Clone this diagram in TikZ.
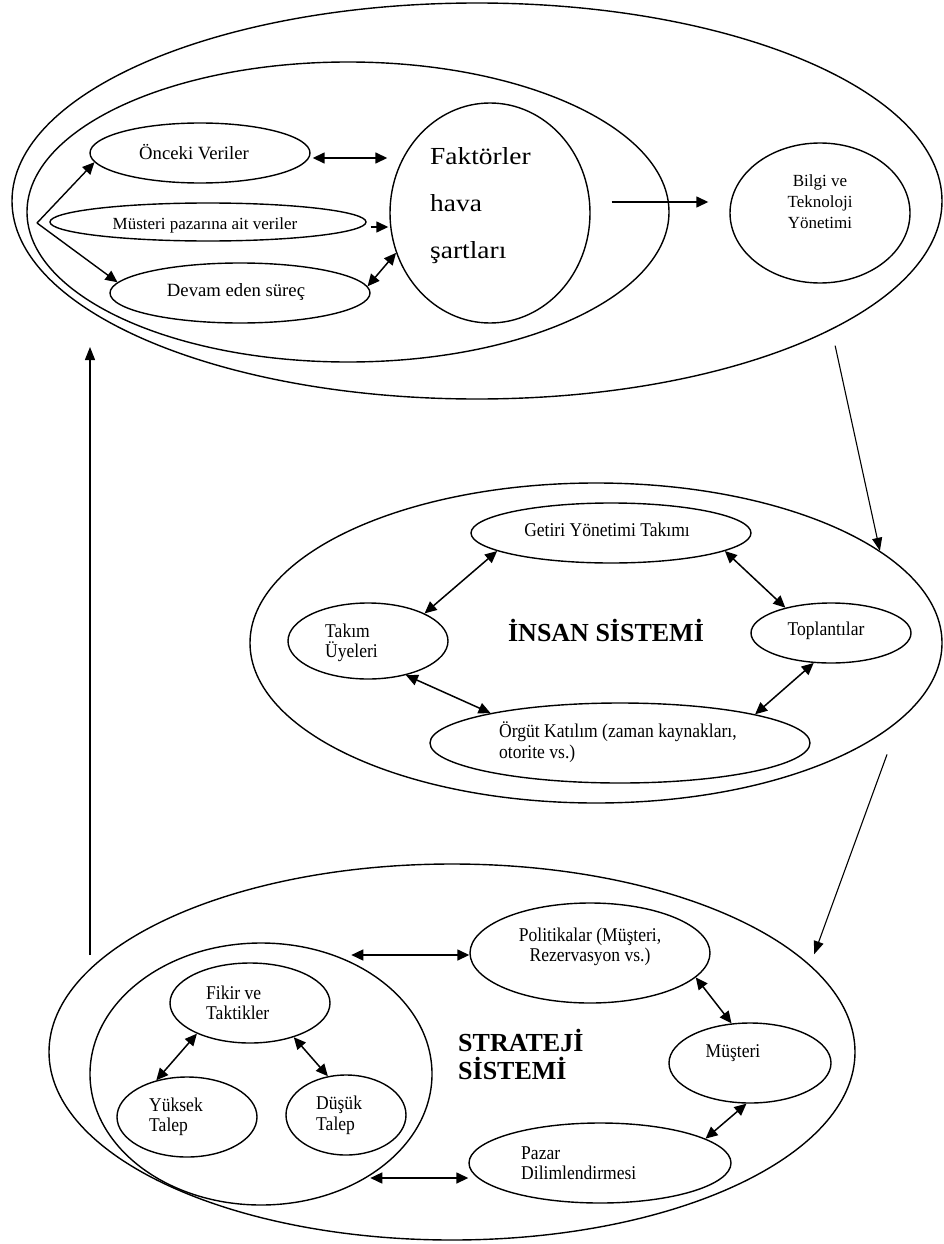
\documentclass[tikz,border=0pt]{standalone}
\usepackage{fontspec}
\setmainfont{Liberation Serif}
\newfontfamily\labelfont[FakeStretch=0.9]{Liberation Serif}
\newfontfamily\widefont[FakeStretch=1.12]{Liberation Serif}
\usetikzlibrary{shapes.geometric,arrows.meta,calc}

\begin{document}
\begin{tikzpicture}[x=1pt,y=-1pt,
  oval/.style={draw,ellipse,line width=1.4pt,inner sep=0pt},
  lbl/.style={font=\labelfont\fontsize{19.5}{20.5}\selectfont,inner sep=0pt},
  big/.style={font=\rmfamily\fontsize{18.7}{21}\selectfont,inner sep=0pt},
  head/.style={font=\bfseries\fontsize{26}{28}\selectfont,inner sep=0pt,align=left},
  dbl/.style={{Triangle[length=12pt,width=11pt]}-{Triangle[length=12pt,width=11pt]},line width=1.5pt},
  sgl/.style={-{Triangle[length=12pt,width=11pt]},line width=1.4pt},
  flow/.style={-{Triangle[length=13pt,width=10pt]},line width=1.1pt}]

\fill[white] (0,0) rectangle (944,1244);
\useasboundingbox (0,0) rectangle (944,1244);

% ---------- knowledge and technology block ----------
\node[oval,minimum width=930pt,minimum height=396pt] (topouter) at (477,201) {};
\node[oval,minimum width=642pt,minimum height=300pt] (topinner) at (348,212) {};
\node[oval,minimum width=220pt,minimum height=60pt] (onceki) at (200,153) {};
\node[oval,minimum width=316pt,minimum height=38pt] (musteri) at (208,222) {};
\node[oval,minimum width=260pt,minimum height=60pt] (devam) at (240,293) {};
\node[oval,minimum width=200pt,minimum height=220pt] (faktor) at (490,213) {};
\node[oval,minimum width=180pt,minimum height=140pt] (bilgi) at (820,213) {};

\node[big] (tOnceki) at (194,152) {Önceki Veriler};
\node[big,font=\rmfamily\fontsize{17}{18}\selectfont] (tMusteri) at (205,225) {Müsteri pazarına ait veriler};
\node[big] (tDevam) at (236,292) {Devam eden süreç};
\node[inner sep=0pt,align=left,anchor=west,font=\widefont\fontsize{24.5}{47}\selectfont] (tFaktor) at (430,206) {Faktörler\\hava\\şartları};
\node[big,align=center,font=\rmfamily\fontsize{17}{21}\selectfont] (tBilgi) at (820,202) {Bilgi ve\\Teknoloji\\Yönetimi};

\coordinate (fan) at (37,223);
\draw[sgl] (fan) -- (onceki.185);
\draw[sgl] (fan) -- (devam.175);
\draw[dbl] ($(onceki.east)+(2,5)$) -- ($(onceki.east -| faktor.west)+(-2,5)$);
\draw[sgl] ($(musteri.east)+(4,5)$) -- ($(musteri.east -| faktor.west)+(-1,5)$);
\draw[dbl] (devam.3) -- (faktor.203);
\draw[sgl] ($(faktor.east)+(21,-11)$) -- ($(bilgi.west)+(-21,-11)$);

% ---------- human system ----------
\node[oval,minimum width=692pt,minimum height=320pt] (midouter) at (596,643) {};
\node[oval,minimum width=280pt,minimum height=60pt] (getiri) at (611,533) {};
\node[oval,minimum width=160pt,minimum height=76pt] (takim) at (368,641) {};
\node[oval,minimum width=160pt,minimum height=60pt] (toplanti) at (831,633) {};
\node[oval,minimum width=380pt,minimum height=80pt] (orgut) at (620,743) {};

\node[lbl] (tGetiri) at (607,530) {Getiri Yönetimi Takımı};
\node[head] (tInsan) at (606,630) {İNSAN SİSTEMİ};
\node[lbl,align=left,anchor=west] (tTakim) at (325,643) {Takım\\Üyeleri};
\node[lbl] (tToplanti) at (826,631) {Toplantılar};
\node[lbl,align=left,anchor=west] (tOrgut) at (499,742) {Örgüt Katılım (zaman kaynakları,\\otorite vs.)};

\draw[dbl] (getiri.189) -- (takim.26);
\draw[dbl] (getiri.-9) -- (toplanti.151);
\draw[dbl] (takim.-42) -- (orgut.167);
\draw[dbl] (toplanti.240) -- (orgut.12);

% ---------- strategy system ----------
\node[oval,minimum width=806pt,minimum height=376pt] (botouter) at (452,1052) {};
\node[oval,minimum width=342pt,minimum height=262pt] (group) at (261,1074) {};
\node[oval,minimum width=160pt,minimum height=80pt] (fikir) at (250,1003) {};
\node[oval,minimum width=140pt,minimum height=80pt] (yuksek) at (187,1117) {};
\node[oval,minimum width=120pt,minimum height=80pt] (dusuk) at (346,1115) {};
\node[oval,minimum width=240pt,minimum height=100pt] (politik) at (590,953) {};
\node[oval,minimum width=162pt,minimum height=80pt] (mus) at (750,1063) {};
\node[oval,minimum width=262pt,minimum height=80pt] (pazar) at (600,1163) {};

\node[lbl,align=center] (tPolitik) at (590,947) {Politikalar (Müşteri,\\Rezervasyon vs.)};
\node[head,anchor=west] (tStrateji) at (458,1054) {STRATEJİ\\SİSTEMİ};
\node[lbl,align=left,anchor=west,font=\labelfont\fontsize{19.5}{20}\selectfont] (tFikir) at (206,1003) {Fikir ve\\Taktikler};
\node[lbl,align=left,anchor=west,font=\labelfont\fontsize{19.5}{20}\selectfont] (tYuksek) at (149,1117) {Yüksek\\Talep};
\node[lbl,align=left,anchor=west,font=\labelfont\fontsize{19.5}{21}\selectfont] (tDusuk) at (316,1115) {Düşük\\Talep};
\node[lbl] (tMus) at (733,1053) {Müşteri};
\node[lbl,align=left,anchor=west,font=\labelfont\fontsize{19.5}{20}\selectfont] (tPazar) at (521,1163) {Pazar\\Dilimlendirmesi};

\draw[dbl] ($(politik.west)+(-118,2)$) -- ($(politik.west)+(0,2)$);
\draw[dbl] ($(pazar.west)+(-98,15)$) -- ($(pazar.west)+(0,15)$);
\draw[dbl] (politik.-13) -- (mus.115);
\draw[dbl] (mus.265) -- (pazar.13);
\draw[dbl] (fikir.210) -- (yuksek.130);
\draw[dbl] (fikir.-38) -- (dusuk.115);

% ---------- flow between the three blocks ----------
\draw[flow] ($(topouter.-22)+(20,8)$) -- (midouter.18);
\draw[flow] ($(midouter.-21)+(24,9)$) -- ($(botouter.15)+(12,-4)$);
\coordinate (loopS) at (90,955);
\coordinate (loopE) at (90,347);
\draw[flow] (loopS) -- (loopE);
\end{tikzpicture}
\end{document}
